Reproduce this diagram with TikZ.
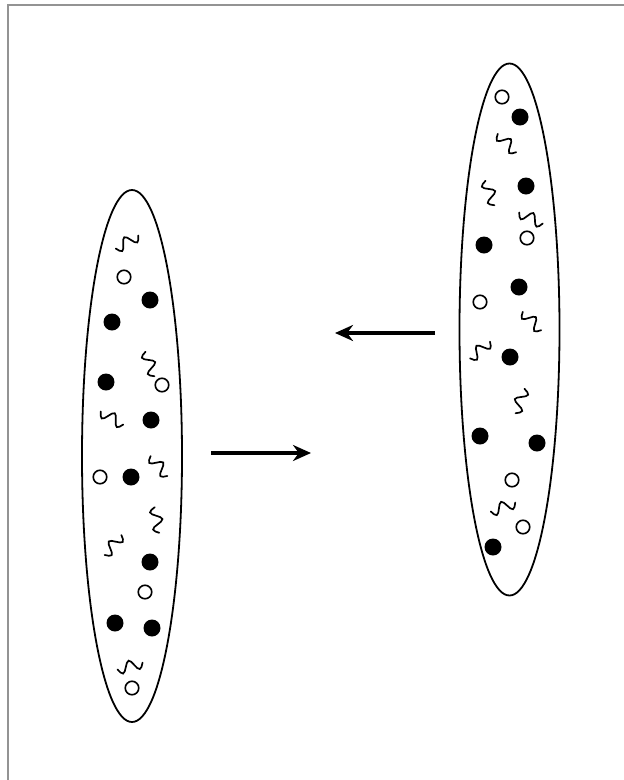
\documentclass[tikz,border=0pt]{standalone}
\usetikzlibrary{shapes.geometric,arrows.meta}
\tikzset{
  cell/.style={draw, line width=1.8pt, ellipse, minimum width=100pt, minimum height=532pt, inner sep=0pt},
  fdot/.style={circle, fill=black, minimum size=17pt, inner sep=0pt},
  odot/.style={circle, draw, line width=1.6pt, minimum size=13.5pt, inner sep=0pt},
  flow/.style={line width=3.5pt, -{Stealth[length=18pt,width=16pt]}},
  squig/.pic={\draw[line width=1.7pt, line cap=round] (-13,0) sin (-8.67,5.5) cos (-4.33,0) sin (0,-5.5) cos (4.33,0) sin (8.67,5.5) cos (13,0);}
}
\begin{document}
\begin{tikzpicture}[x=1pt,y=-1pt]
\useasboundingbox (0,0) rectangle (624,780);
\fill[white] (0,0) rectangle (624,780);
\draw[gray!85, line width=2pt] (7.5,780) -- (7.5,4.5) -- (624,4.5);

\node[cell] (L) at (132,456) {};
\node[cell] (R) at (509.5,329.5) {};

% left cell particles
\pic[rotate=30] at (127,242) {squig};
\node[odot] (l1) at (124,277) {};
\node[fdot] (l2) at (150,300) {};
\node[fdot] (l3) at (112,322) {};
\pic[rotate=-70] at (150,364) {squig};
\node[odot] (l4) at (162,385) {};
\node[fdot] (l5) at (106,382) {};
\pic[rotate=-30] at (112,418) {squig};
\node[fdot] (l6) at (151,420) {};
\pic[rotate=-50] at (159,466) {squig};
\node[odot] (l7) at (100,477) {};
\node[fdot] (l8) at (131,477) {};
\pic[rotate=-80] at (157,520) {squig};
\pic[rotate=50] at (113,545) {squig};
\node[fdot] (l9) at (150,562) {};
\node[odot] (l10) at (145,592) {};
\node[fdot] (l11) at (115,623) {};
\node[fdot] (l12) at (152,628) {};
\pic[rotate=15] at (130,666) {squig};
\node[odot] (l13) at (132,688) {};

% right cell particles
\node[odot] (r1) at (502,97) {};
\node[fdot] (r2) at (520,117) {};
\pic[rotate=-45] at (507,143) {squig};
\pic[rotate=-70] at (490,193) {squig};
\node[fdot] (r3) at (526,186) {};
\pic[rotate=-25] at (531,218) {squig};
\node[odot] (r4) at (527,238) {};
\node[fdot] (r5) at (484,245) {};
\node[fdot] (r6) at (519,287) {};
\node[odot] (r7) at (480,302) {};
\pic[rotate=-45] at (532,321) {squig};
\pic[rotate=40] at (480,350) {squig};
\node[fdot] (r8) at (510,357) {};
\pic[rotate=70] at (520,401) {squig};
\node[fdot] (r9) at (480,436) {};
\node[fdot] (r10) at (537,443) {};
\node[odot] (r11) at (512,480) {};
\pic[rotate=20] at (503,507) {squig};
\node[odot] (r12) at (523,527) {};
\node[fdot] (r13) at (493,547) {};

% arrows
\coordinate (a1s) at (211,453);
\coordinate (a1e) at (311,453);
\coordinate (a2s) at (435,333);
\coordinate (a2e) at (335,333);
\draw[flow] (a1s) -- (a1e);
\draw[flow] (a2s) -- (a2e);
\end{tikzpicture}
\end{document}
